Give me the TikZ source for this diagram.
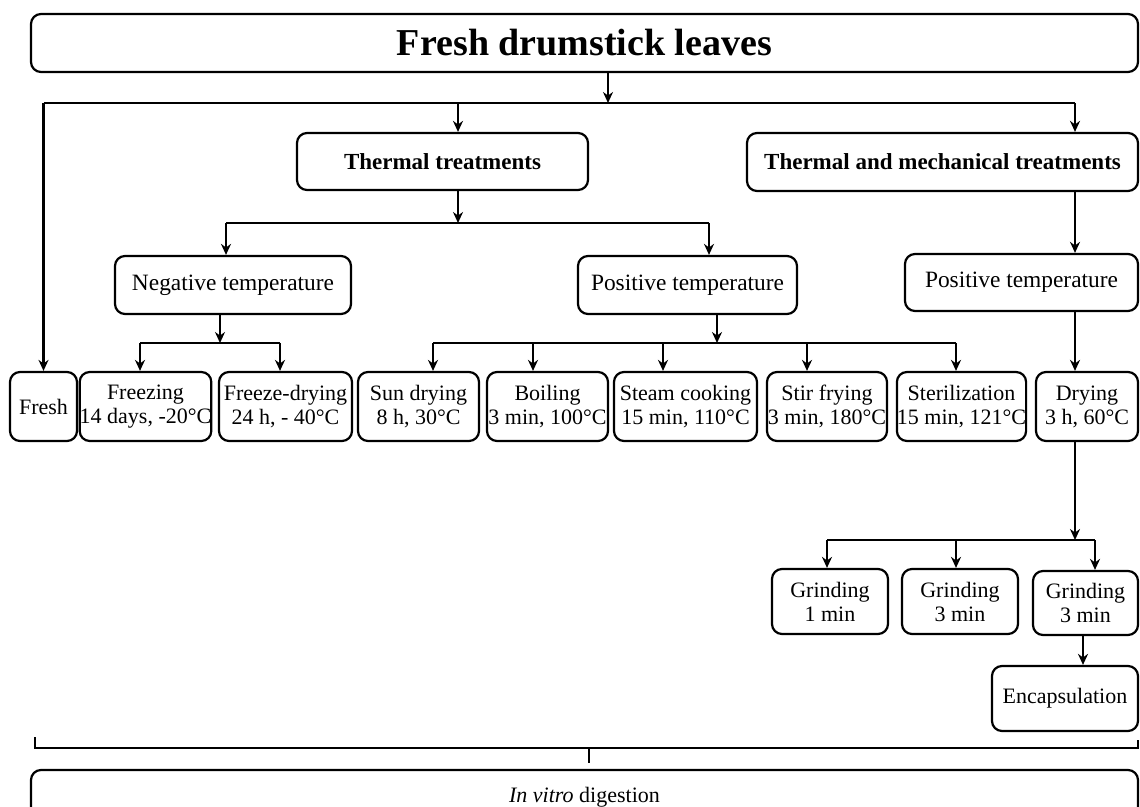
\documentclass[tikz,border=0pt]{standalone}
\usepackage{fontspec}
\setmainfont{Liberation Serif}
\usetikzlibrary{arrows.meta}

\begin{document}
\begin{tikzpicture}[x=0.5pt, y=-0.5pt,
    box/.style={draw, line width=1.1pt, rounded corners=5pt, inner sep=0pt, align=center, font=\fontsize{11}{12}\selectfont},
    headbox/.style={box, font=\fontsize{11.5}{13}\selectfont\bfseries},
    tempbox/.style={box, font=\fontsize{11.7}{13}\selectfont},
    arr/.style={-{Stealth[length=5.5pt,width=5pt]}, line width=1.1pt},
    link/.style={line width=1.1pt}]
      \clip (0,0) rectangle (1140,807);

      \node[box, minimum width=553.5pt, minimum height=29pt, font=\fontsize{19}{22}\selectfont\bfseries] (leaves) at (584.5,43) {Fresh drumstick leaves};
      \node[headbox, minimum width=145.5pt, minimum height=28.5pt] (thermal) at (442.5,161.5) {Thermal treatments};
      \node[headbox, minimum width=195.5pt, minimum height=29pt] (thermech) at (942.5,162) {Thermal and mechanical treatments};
      \node[tempbox, minimum width=118pt, minimum height=29pt] (negtemp) at (233,285) {Negative temperature};
      \node[tempbox, minimum width=109.5pt, minimum height=29pt] (postemp) at (687.5,285) {Positive temperature};
      \node[tempbox, minimum width=116.5pt, minimum height=28.5pt] (postempb) at (1021.5,282.5) {Positive temperature};

      \node[box, minimum width=33.5pt, minimum height=34.5pt] (fresh) at (43.5,406.5) {Fresh};
      \node[box, minimum width=65.5pt, minimum height=34.5pt] (freezing) at (145.5,406.5) {Freezing\\14 days, -20°C};
      \node[box, minimum width=66.5pt, minimum height=34.5pt] (freezedry) at (285.5,406.5) {Freeze-drying\\24 h, - 40°C};
      \node[box, minimum width=60.5pt, minimum height=34.5pt] (sundry) at (418.5,406.5) {Sun drying\\8 h, 30°C};
      \node[box, minimum width=60.5pt, minimum height=34.5pt] (boiling) at (547.5,406.5) {Boiling\\3 min, 100°C};
      \node[box, minimum width=71.5pt, minimum height=34.5pt] (steam) at (685.5,406.5) {Steam cooking\\15 min, 110°C};
      \node[box, minimum width=60pt, minimum height=34.5pt] (stirfry) at (827,406.5) {Stir frying\\3 min, 180°C};
      \node[box, minimum width=64.5pt, minimum height=34.5pt] (steril) at (961.5,406.5) {Sterilization\\15 min, 121°C};
      \node[box, minimum width=51pt, minimum height=34.5pt] (drying) at (1087,406.5) {Drying\\3 h, 60°C};

      \node[box, minimum width=58pt, minimum height=32.5pt] (grindA) at (830,601.5) {Grinding\\1 min};
      \node[box, minimum width=58pt, minimum height=32.5pt] (grindB) at (960,601.5) {Grinding\\3 min};
      \node[box, minimum width=52.5pt, minimum height=32pt] (grindC) at (1085.5,603) {Grinding\\3 min};
      \node[box, minimum width=73pt, minimum height=32.5pt] (encaps) at (1065,698.5) {Encapsulation};
      \node[box, minimum width=553.5pt, minimum height=27pt] (digest) at (584.5,797) {\textit{In vitro} digestion};

      \coordinate (jtop) at (608,103);
      \coordinate (jthermal) at (458,103);
      \coordinate (jmech) at (1075,103);
      \draw[arr] (jtop |- leaves.south) -- (jtop);
      \draw[link] (fresh.north |- jtop) -- (jmech);
      \draw[arr] (fresh.north |- jtop) -- (fresh.north);
      \draw[arr] (jthermal) -- (jthermal |- thermal.north);
      \draw[arr] (jmech) -- (jmech |- thermech.north);

      \coordinate (jsign) at (458,223);
      \coordinate (jneg) at (226,223);
      \coordinate (jpos) at (709,223);
      \draw[arr] (jsign |- thermal.south) -- (jsign);
      \draw[link] (jneg) -- (jpos);
      \draw[arr] (jneg) -- (jneg |- negtemp.north);
      \draw[arr] (jpos) -- (jpos |- postemp.north);

      \draw[arr] (jmech |- thermech.south) -- (jmech |- postempb.north);
      \draw[arr] (jmech |- postempb.south) -- (jmech |- drying.north);

      \coordinate (jcold) at (220,343);
      \draw[arr] (jcold |- negtemp.south) -- (jcold);
      \draw[link] (140,343) -- (280,343);
      \foreach \x/\n in {140/freezing, 280/freezedry}
        \draw[arr] (\x,343) -- (\x,343 |- \n.north);

      \coordinate (jhot) at (717,343);
      \draw[arr] (jhot |- postemp.south) -- (jhot);
      \draw[link] (433,343) -- (956,343);
      \foreach \x/\n in {433/sundry, 533/boiling, 663/steam, 807/stirfry, 956/steril}
        \draw[arr] (\x,343) -- (\x,343 |- \n.north);

      \coordinate (jgrind) at (1075,540);
      \draw[arr] (jgrind |- drying.south) -- (jgrind);
      \draw[link] (827,540) -- (1095,540);
      \foreach \x/\n in {827/grindA, 956/grindB, 1095/grindC}
        \draw[arr] (\x,540) -- (\x,540 |- \n.north);
      \coordinate (jenc) at (1083,635);
      \draw[arr] (jenc |- grindC.south) -- (jenc |- encaps.north);

      \coordinate (bleft) at (35,737);
      \coordinate (bright) at (1138,740);
      \coordinate (bmid) at (589,748);
      \draw[link] (bleft) |- (bright |- bmid) -- (bright);
      \draw[link, shorten >=3pt] (bmid) -- (bmid |- digest.north);
    \end{tikzpicture}
\end{document}
